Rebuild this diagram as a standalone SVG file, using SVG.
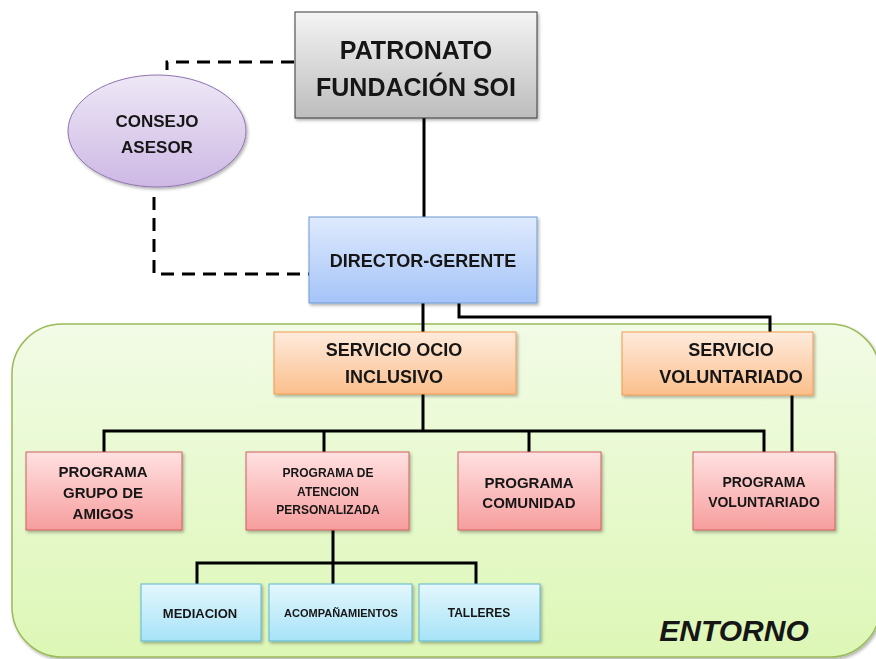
<svg xmlns="http://www.w3.org/2000/svg" width="876" height="659" viewBox="0 0 876 659">
<defs>
<linearGradient id="gGray" x1="0" y1="0" x2="0" y2="1"><stop offset="0" stop-color="#f4f4f4"/><stop offset="1" stop-color="#bdbdbd"/></linearGradient>
<linearGradient id="gPurple" x1="0" y1="0" x2="0" y2="1"><stop offset="0" stop-color="#eee8f6"/><stop offset="1" stop-color="#cdb8e4"/></linearGradient>
<linearGradient id="gBlue" x1="0" y1="0" x2="0" y2="1"><stop offset="0" stop-color="#dfeafd"/><stop offset="1" stop-color="#a4c4f8"/></linearGradient>
<linearGradient id="gOrange" x1="0" y1="0" x2="0" y2="1"><stop offset="0" stop-color="#feebdd"/><stop offset="1" stop-color="#fbbf8c"/></linearGradient>
<linearGradient id="gPink" x1="0" y1="0" x2="0" y2="1"><stop offset="0" stop-color="#ffe1e1"/><stop offset="1" stop-color="#f79d9d"/></linearGradient>
<linearGradient id="gCyan" x1="0" y1="0" x2="0" y2="1"><stop offset="0" stop-color="#e4f7fd"/><stop offset="1" stop-color="#a7e3f8"/></linearGradient>
<linearGradient id="gGreen" x1="0" y1="0" x2="0" y2="1"><stop offset="0" stop-color="#f2fbe6"/><stop offset="1" stop-color="#ddf7b6"/></linearGradient>
<filter id="sh" x="-10%" y="-10%" width="130%" height="140%"><feDropShadow dx="1.5" dy="2" stdDeviation="1.5" flood-color="#000" flood-opacity="0.3"/></filter>
</defs>
<style>
text{font-family:"Liberation Sans",Arial,sans-serif;font-weight:bold;fill:#161616;text-anchor:middle;dominant-baseline:central}
.con{fill:none;stroke:#000;stroke-width:3}
.dash{fill:none;stroke:#000;stroke-width:3;stroke-dasharray:13 8}
.box{filter:url(#sh)}
</style>
<g id="entorno">
<rect x="12" y="324" width="868" height="333" rx="50" ry="50" fill="url(#gGreen)" stroke="#9bbb59" stroke-width="1.5" filter="url(#sh)"/>
<text x="734" y="630" font-size="30" font-style="italic">ENTORNO</text>
</g>
<g id="connectors">
<path class="dash" d="M294,62 H167 V70"/>
<path class="dash" d="M154,197 V274 H310"/>
<path class="con" d="M424,118 V217"/>
<path class="con" d="M423,303 V332"/>
<path class="con" d="M459,303 V317 H770 V332"/>
<path class="con" d="M423,394 V431"/>
<path class="con" d="M104,452 V431 H764 V452"/>
<path class="con" d="M324,431 V452"/>
<path class="con" d="M529,431 V452"/>
<path class="con" d="M792,395 V452"/>
<path class="con" d="M333,530 V563"/>
<path class="con" d="M197,584 V563 H476 V584"/>
<path class="con" d="M333,563 V584"/>
</g>
<g id="patronato" class="box">
<rect x="295" y="12" width="242" height="106" fill="url(#gGray)" stroke="#3a3a3a" stroke-width="1"/>
<text x="416" y="50" font-size="25">PATRONATO</text>
<text x="416" y="87" font-size="25">FUNDACIÓN SOI</text>
</g>
<g id="consejo" class="box">
<ellipse cx="157" cy="131" rx="89" ry="56" fill="url(#gPurple)" stroke="#8e75b0" stroke-width="1"/>
<text x="157" y="121" font-size="17">CONSEJO</text>
<text x="157" y="147" font-size="17">ASESOR</text>
</g>
<g id="director" class="box">
<rect x="309" y="217" width="228" height="86" fill="url(#gBlue)" stroke="#7399d4" stroke-width="1"/>
<text x="423" y="261" font-size="18">DIRECTOR-GERENTE</text>
</g>
<g id="servicio-ocio" class="box">
<rect x="274" y="332" width="242" height="62" fill="url(#gOrange)" stroke="#f39a4e" stroke-width="1"/>
<text x="394" y="350" font-size="18">SERVICIO OCIO</text>
<text x="394" y="377" font-size="18">INCLUSIVO</text>
</g>
<g id="servicio-voluntariado" class="box">
<rect x="622" y="332" width="191" height="63" fill="url(#gOrange)" stroke="#f39a4e" stroke-width="1"/>
<text x="731" y="350" font-size="18">SERVICIO</text>
<text x="731" y="377" font-size="18">VOLUNTARIADO</text>
</g>
<g id="programa-grupo" class="box">
<rect x="26" y="452" width="156" height="78" fill="url(#gPink)" stroke="#d0605e" stroke-width="1"/>
<text x="103" y="471" font-size="15">PROGRAMA</text>
<text x="103" y="492" font-size="15">GRUPO DE</text>
<text x="103" y="513" font-size="15">AMIGOS</text>
</g>
<g id="programa-atencion" class="box">
<rect x="246" y="452" width="163" height="78" fill="url(#gPink)" stroke="#d0605e" stroke-width="1"/>
<text x="328" y="473" font-size="12">PROGRAMA DE</text>
<text x="328" y="492" font-size="12">ATENCION</text>
<text x="328" y="510" font-size="12">PERSONALIZADA</text>
</g>
<g id="programa-comunidad" class="box">
<rect x="458" y="452" width="143" height="78" fill="url(#gPink)" stroke="#d0605e" stroke-width="1"/>
<text x="529" y="482" font-size="15">PROGRAMA</text>
<text x="529" y="502" font-size="15">COMUNIDAD</text>
</g>
<g id="programa-voluntariado" class="box">
<rect x="693" y="452" width="142" height="78" fill="url(#gPink)" stroke="#d0605e" stroke-width="1"/>
<text x="764" y="482" font-size="14">PROGRAMA</text>
<text x="764" y="502" font-size="14">VOLUNTARIADO</text>
</g>
<g id="mediacion" class="box">
<rect x="141" y="584" width="120" height="57" fill="url(#gCyan)" stroke="#5fb8d4" stroke-width="1"/>
<text x="200" y="613" font-size="13">MEDIACION</text>
</g>
<g id="acompanamientos" class="box">
<rect x="269" y="584" width="143" height="57" fill="url(#gCyan)" stroke="#5fb8d4" stroke-width="1"/>
<text x="341" y="613" font-size="11">ACOMPAÑAMIENTOS</text>
</g>
<g id="talleres" class="box">
<rect x="419" y="584" width="121" height="57" fill="url(#gCyan)" stroke="#5fb8d4" stroke-width="1"/>
<text x="479" y="613" font-size="12">TALLERES</text>
</g>
</svg>
